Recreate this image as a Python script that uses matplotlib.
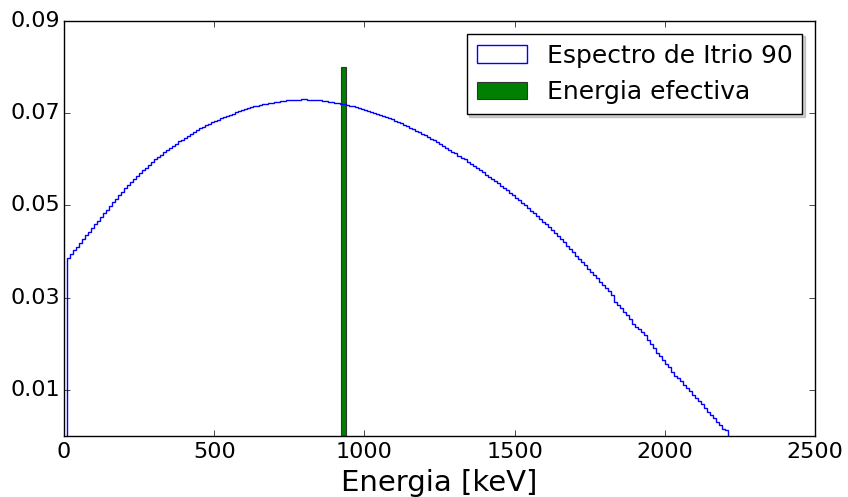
import matplotlib
matplotlib.use("Agg")
import matplotlib.pyplot as plt
import numpy as np

plt.style.use("classic")

# espectro beta del Y-90, bins de 10 keV desde 10 keV
bin_width = 10
first_edge = 10
spectrum = [
    0.0387, 0.0395, 0.0403, 0.0411, 0.0419, 0.0427, 0.0435, 0.0443, 0.0451,
    0.0459, 0.0467, 0.0475, 0.0483, 0.0491, 0.0499, 0.0507, 0.0514, 0.0522, 0.0530,
    0.0537, 0.0544, 0.0551, 0.0557, 0.0564, 0.0570, 0.0576, 0.0582, 0.0588, 0.0594,
    0.0600, 0.0605, 0.0610, 0.0615, 0.0620, 0.0625, 0.0630, 0.0634, 0.0639, 0.0643,
    0.0647, 0.0651, 0.0655, 0.0659, 0.0663, 0.0667, 0.0670, 0.0674, 0.0677, 0.0680,
    0.0683, 0.0686, 0.0689, 0.0692, 0.0694, 0.0697, 0.0699, 0.0702, 0.0704, 0.0707,
    0.0709, 0.0711, 0.0713, 0.0715, 0.0716, 0.0718, 0.0719, 0.0721, 0.0722, 0.0723,
    0.0724, 0.0725, 0.0726, 0.0727, 0.0728, 0.0728, 0.0729, 0.0729, 0.0729, 0.0730,
    0.0730, 0.0729, 0.0729, 0.0729, 0.0728, 0.0728, 0.0727, 0.0726, 0.0725, 0.0724,
    0.0723, 0.0722, 0.0721, 0.0719, 0.0718, 0.0716, 0.0715, 0.0713, 0.0711, 0.0709,
    0.0707, 0.0705, 0.0703, 0.0701, 0.0699, 0.0697, 0.0694, 0.0692, 0.0689, 0.0687,
    0.0684, 0.0681, 0.0678, 0.0675, 0.0672, 0.0669, 0.0666, 0.0662, 0.0659, 0.0655,
    0.0652, 0.0648, 0.0644, 0.0641, 0.0637, 0.0633, 0.0629, 0.0625, 0.0621, 0.0617,
    0.0613, 0.0608, 0.0604, 0.0600, 0.0595, 0.0591, 0.0586, 0.0581, 0.0577, 0.0572,
    0.0567, 0.0562, 0.0558, 0.0553, 0.0548, 0.0543, 0.0538, 0.0533, 0.0527, 0.0522,
    0.0517, 0.0511, 0.0506, 0.0500, 0.0495, 0.0489, 0.0483, 0.0477, 0.0471, 0.0465,
    0.0459, 0.0453, 0.0447, 0.0440, 0.0434, 0.0427, 0.0420, 0.0413, 0.0406, 0.0398,
    0.0391, 0.0384, 0.0377, 0.0370, 0.0363, 0.0356, 0.0349, 0.0342, 0.0335, 0.0328,
    0.0321, 0.0314, 0.0306, 0.0291, 0.0284, 0.0277, 0.0270, 0.0262, 0.0254, 0.0244,
    0.0237, 0.0232, 0.0226, 0.0220, 0.0208, 0.0200, 0.0190, 0.0181, 0.0174, 0.0165,
    0.0157, 0.0150, 0.0139, 0.0131, 0.0125, 0.0119, 0.0111, 0.0104, 0.0097, 0.0090,
    0.0083, 0.0076, 0.0069, 0.0060, 0.0053, 0.0046, 0.0038, 0.0031, 0.0024, 0.0016,
    0.0013,
]

# energia efectiva (keV) y altura de la barra
e_eff = 930
e_eff_height = 0.08
e_eff_width = 15

xticks = [0, 500, 1000, 1500, 2000, 2500]
yticks = [0.01, 0.03, 0.05, 0.07, 0.09]

edges = first_edge + bin_width * np.arange(len(spectrum) + 1)
centers = edges[:-1] + bin_width / 2

fig = plt.figure(figsize=(8.48, 4.97), dpi=100)
ax = fig.add_axes([0.0755, 0.1227, 0.8855, 0.835])

ax.hist(centers, bins=edges, weights=spectrum, histtype="step",
        color="b", linewidth=1.0, label="Espectro de Itrio 90")
ax.bar(e_eff, e_eff_height, width=e_eff_width, align="center",
       color="g", edgecolor="0.2", linewidth=0.8, label="Energia efectiva")

ax.set_xlim(0, 2500)
ax.set_ylim(0, 0.09)
ax.set_xticks(xticks)
ax.set_yticks(yticks)
ax.set_yticklabels(["%.2f" % t for t in yticks])
ax.tick_params(labelsize=16, direction="in", top=True, right=True)
ax.tick_params(axis="y", pad=3)
ax.set_xlabel("Energia [keV]", fontsize=21)

ax.legend(loc="upper right", fontsize=18, shadow={"alpha": 0.25})

fig.savefig("out.png", dpi=100)
